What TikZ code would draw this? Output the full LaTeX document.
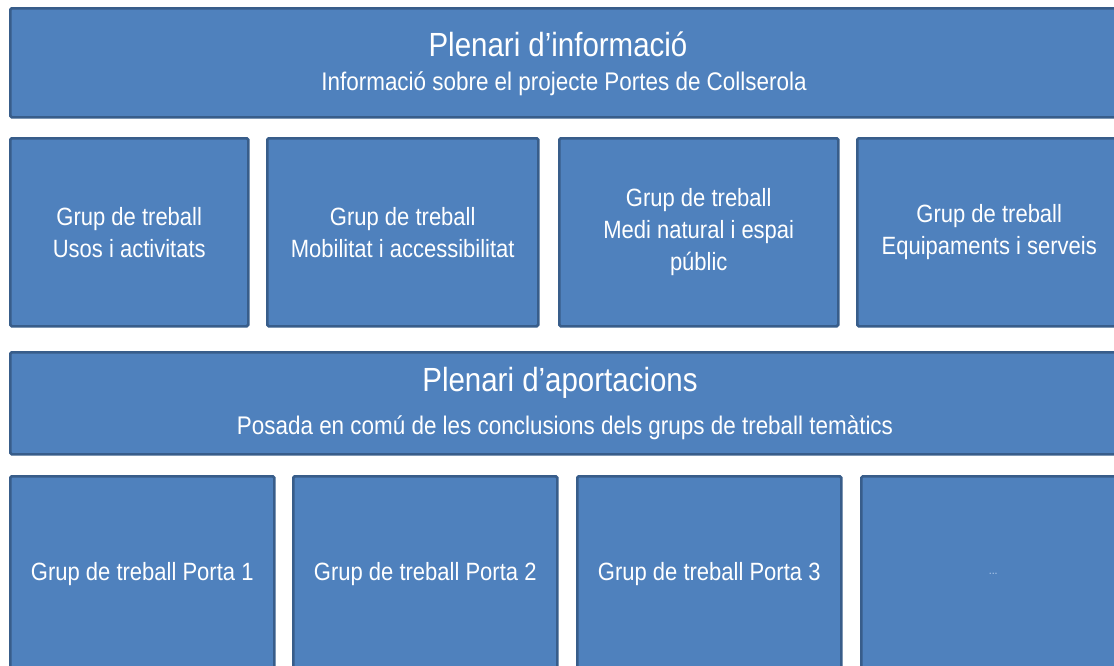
\documentclass[tikz,border=0pt]{standalone}
\usepackage{fontspec}
\setmainfont{Liberation Sans}[FakeStretch=0.88]
\definecolor{boxblue}{HTML}{4F81BD}
\definecolor{boxedge}{HTML}{385D8A}
\definecolor{dotblue}{HTML}{B4CCEC}

\begin{document}
\begin{tikzpicture}[x=1pt, y=-1pt]
        \tikzstyle{panel} = [draw=boxedge, fill=boxblue, line width=2.5pt, rounded corners=1.5pt, anchor=north west, inner sep=0pt]
        \tikzstyle{title} = [text=white, font=\fontsize{33.5}{36}\selectfont]
        \tikzstyle{subtitle} = [text=white, font=\fontsize{25.5}{28}\selectfont]
        \tikzstyle{group} = [text=white, align=center, font=\fontsize{25}{32}\selectfont]
        \useasboundingbox (0,0) rectangle (1114,665);
        \clip (0,0) rectangle (1114,665);
        % Draw the first plenary across the whole width
        \node[panel, minimum width=1111pt, minimum height=109pt] (info) at (9,7) {};
        \node[title] (infotitle) at (558,44) {Plenari d’informació};
        \node[subtitle] (infosub) at (564,84) {Informació sobre el projecte Portes de Collserola};
        % Draw the four thematic working groups
        \foreach \x/\w/\name/\txt in {9/238/usos/{Grup de treball\\Usos i activitats},
                266/271/mobil/{Grup de treball\\Mobilitat i accessibilitat},
                558/279/medi/{Grup de treball\\Medi natural i espai\\públic},
                856/264/equip/{Grup de treball\\Equipaments i serveis}} {
            \node[panel, group, minimum width=\w pt, minimum height=188pt] (\name) at (\x,137) {\txt};
        }
        % Draw the second plenary
        \node[panel, minimum width=1111pt, minimum height=102pt] (aport) at (9,351) {};
        \node[title] (aporttitle) at (560,383) {Plenari d’aportacions};
        \node[subtitle] (aportsub) at (565,428) {Posada en comú de les conclusions dels grups de treball temàtics};
        % Draw the working groups for each gate
        \foreach \x/\j in {9/1, 292/2, 576/3} {
            \node[panel, group, minimum width=264pt, minimum height=196pt] (porta\j) at (\x,475) {Grup de treball Porta \j};
        }
        % Draw a last box with dots to show that there are more gates
        \node[panel, minimum width=264pt, minimum height=196pt, text=dotblue, font=\fontsize{12}{14}\selectfont] (portadots) at (860,475) {...};
    \end{tikzpicture}
\end{document}
